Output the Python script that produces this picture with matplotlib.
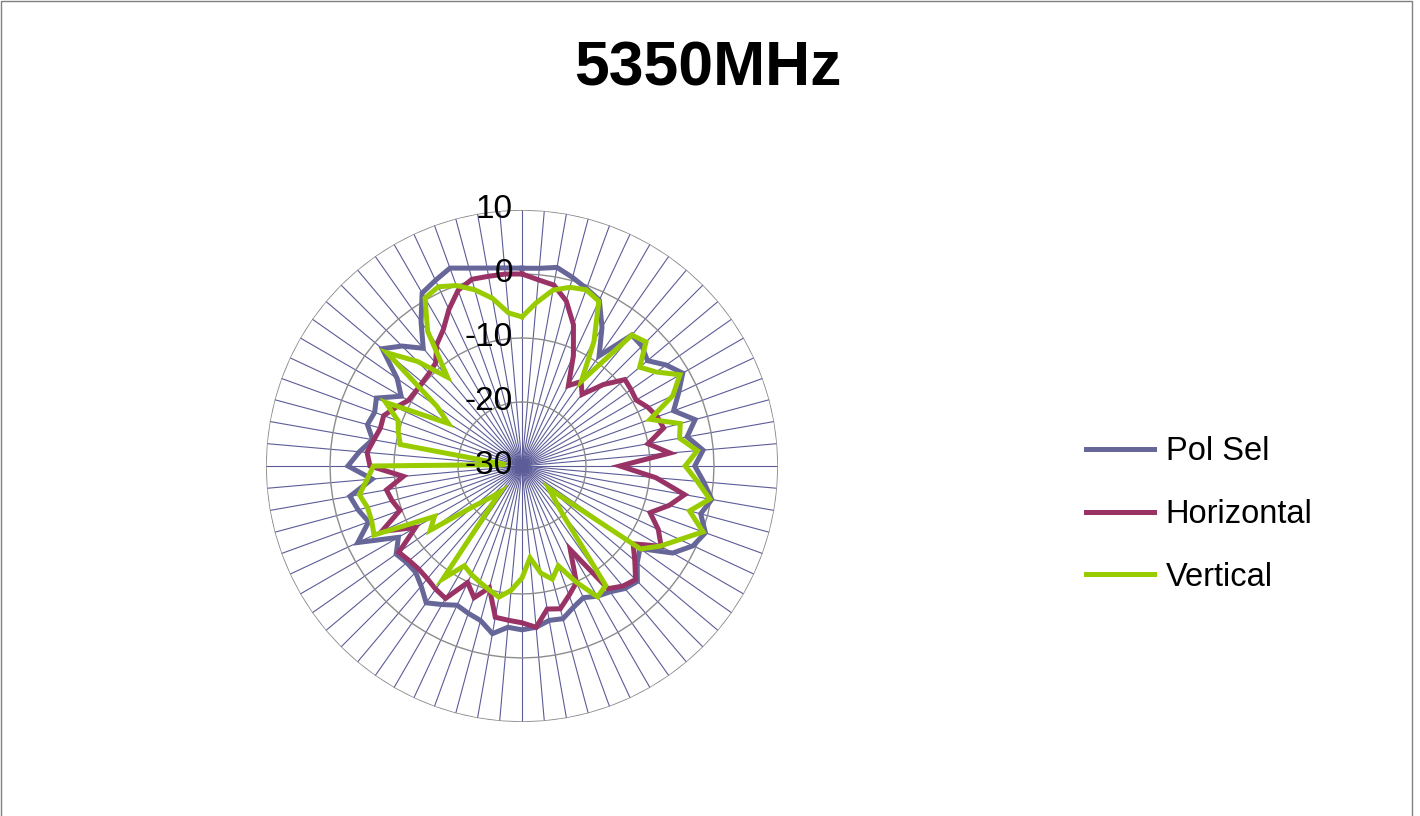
import numpy as np
import matplotlib
matplotlib.use("Agg")
import matplotlib.pyplot as plt
from matplotlib.patches import Rectangle

plt.rcParams['font.family'] = ['Liberation Sans', 'DejaVu Sans']

title = "5350MHz"
series_names = ["Pol Sel", "Horizontal", "Vertical"]
colors = ["#666699", "#993366", "#99cc00"]

# 72 directions, 5 degrees apart, clockwise from the top
angles_deg = list(range(0, 360, 5))

pol_sel = [0.9, 1.0, 1.5, 0.5, -0.5, -1.4, -5, -9, -3.3, -3.5,
           -4.4, -2.5, -1, -3, -4.8, -2, -3.8, -1.6, -3, -1.5,
           0.1, -1.1, 0.5, -0.5, -2.8, -7.5, -6.5, -4.5, -5, -6,
           -6.5, -7.3, -6.5, -5.3, -5.5, -4.7, -4.4, -4.7, -3.4, -5,
           -5.5, -6, -5, -3.9, -5.5, -6.5, -6.5, -6, -7.7, -1.7,
           -4.5, -3.5, -2.7, -6.5, -2.8, -4.5, -6.3, -5, -5.5, -4.9,
           -8.2, -6.2, -1.5, -3.5, -6, -2.5, 1.2, 2.0, 2.9, 2.0,
           1.4, 1.06]

horizontal = [0, -0.8, -1.3, -3.3, -6.5, -11, -15.5, -13.9, -15.4, -12,
              -9, -9.2, -9.4, -8.3, -7.5, -7.1, -10, -6.8, -14.7, -9,
              -4.2, -6.2, -8.7, -6.5, -4.9, -8.8, -7, -4.9, -5.5, -6.6,
              -14.9, -9.9, -8.5, -6.9, -7.3, -4.7, -5.5, -5.8, -6, -10.3,
              -8.1, -9.9, -6.1, -6.5, -7, -7.2, -7, -6.5, -10.8, -5.8,
              -9.7, -9, -8.5, -11.4, -6.25, -5.7, -6.5, -7.1, -7, -8.3,
              -9.5, -9.7, -9.7, -9.5, -9, -6.8, -5.4, -3, -0.8, 0.2,
              0.1, 0.1]

vertical = [-6.7, -4.4, -2.1, -1.1, -0.7, -1.6, -7.5, -13.8, -3.3, -2.6,
            -6, -4.4, -1.5, -4, -8.7, -4.4, -5, -2.5, -4.5, -2.5,
            -0.2, -2.9, 0.1, -2.8, -5, -7.4, -24.5, -23, -20, -7.2,
            -6.4, -10, -13.4, -11.7, -13, -15.6, -12.5, -10.5, -9.2, -10,
            -10.7, -11.3, -12, -8.5, -24.7, -23, -20.3, -12.5, -14.2, -4.5,
            -5, -5, -4.2, -5.7, -6.8, -27.5, -10.7, -10, -9.4, -6.5,
            -16.7, -13.8, -2.5, -6.9, -11.9, -4.3, 0.3, 0.9, 0, -1.5,
            -3.4, -6]

r_ticks = [-30, -20, -10, 0, 10]
r_min, r_max = -30, 10

fig = plt.figure(figsize=(14.2, 8.16), dpi=100)
fig.add_artist(Rectangle((0.0007, -0.01), 0.9937, 1.009, transform=fig.transFigure,
                         fill=False, edgecolor="#808080", linewidth=1))

ax = fig.add_axes([0.1873, 0.1152, 0.3606, 0.6275], projection="polar")
ax.set_theta_zero_location("N")
ax.set_theta_direction(-1)
ax.set_ylim(r_min, r_max)
ax.grid(False)
ax.set_xticks([])
ax.set_yticks([])
ax.spines["polar"].set_visible(False)
ax.patch.set_alpha(0)

theta = np.deg2rad(angles_deg)
closed = np.append(theta, theta[0])

# spokes
for t in theta:
    ax.plot([t, t], [r_min, r_max], color="#5c5c99", lw=0.8, zorder=1)
# polygon rings
for v in r_ticks[1:]:
    ax.plot(closed, [v] * len(closed), color="#8c8c8c", lw=1.0, zorder=1)

for name, vals, c in zip(series_names, [pol_sel, horizontal, vertical], colors):
    ax.plot(closed, vals + vals[:1], color=c, lw=3.6, label=name, zorder=3,
            solid_joinstyle="miter")

for v in r_ticks:
    ax.annotate(str(v), xy=(0, v), xytext=(-9, 0), textcoords="offset pixels",
                ha="right", va="center", fontsize=24, color="black", zorder=4)

fig.text(0.4985, 0.9155, title, ha="center", va="center", fontsize=45,
         fontweight="bold")

fig.legend(loc="center left", bbox_to_anchor=(0.744, 0.3695), frameon=False,
           fontsize=23.5, handlelength=2.1, handletextpad=0.35, labelspacing=0.97)

fig.savefig("out.png", dpi=100)
